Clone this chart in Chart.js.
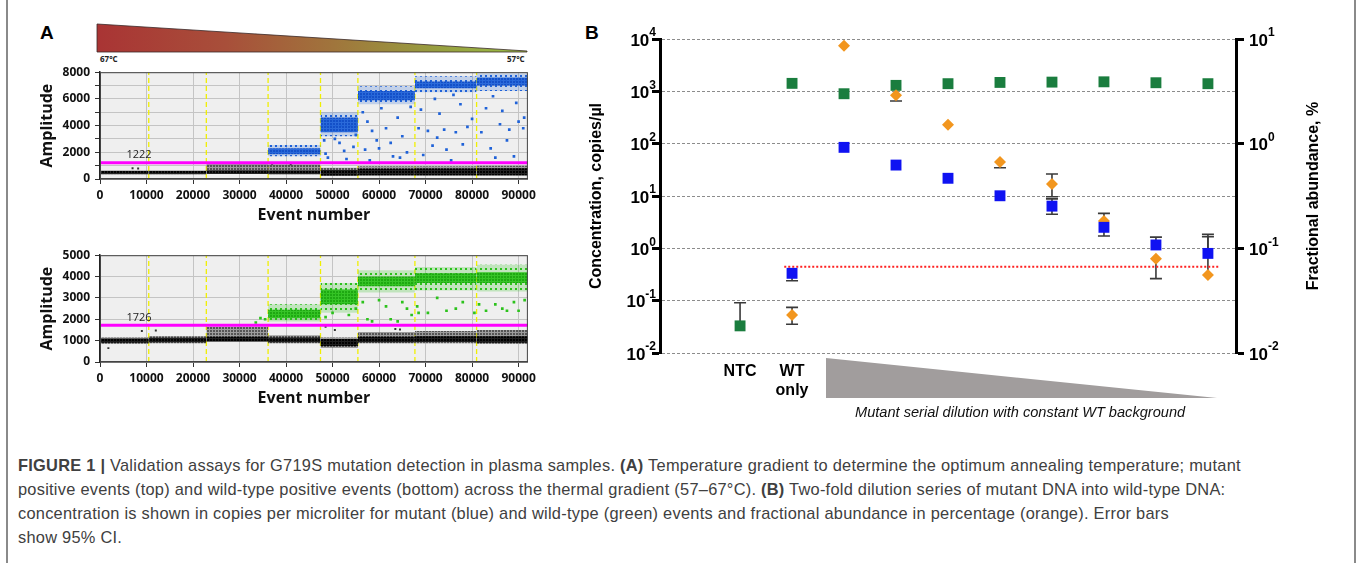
<!DOCTYPE html>
<html>
<head>
<title>Figure 1 - G719S validation</title>
<style>
  body { margin: 0; background: #fff; font-family: "Liberation Sans", Arial, sans-serif; }
  #page { position: relative; width: 1357px; height: 563px; overflow: hidden; }
  .abs { position: absolute; }
  canvas { position: absolute; }
  .panel { font-weight: bold; font-size: 19px; color: #000; }
  .temp { font-family: "Open Sans", sans-serif; font-weight: bold; font-size: 8px; color: #222; }
  .note { font-style: italic; font-size: 14.6px; color: #111; white-space: nowrap; }
  #caption { left: 18px; top: 453px; font-size: 16.4px; letter-spacing: 0.25px; line-height: 24px; color: #404040; white-space: nowrap; }
</style>
<script src="https://cdn.jsdelivr.net/npm/chart.js"></script>
</head>
<body>
<div id="page">
  <svg class="abs" style="left:0;top:0" width="1357" height="563">
    <defs>
      <linearGradient id="tempGrad" x1="0" x2="1" y1="0" y2="0">
        <stop offset="0" stop-color="#a93434"/>
        <stop offset="0.3" stop-color="#a84f3a"/>
        <stop offset="0.55" stop-color="#a0753c"/>
        <stop offset="0.8" stop-color="#97a040"/>
        <stop offset="1" stop-color="#9bbf45"/>
      </linearGradient>
    </defs>
    <polygon points="97,24 527,51 527,52 97,52" fill="url(#tempGrad)" stroke="#3a2a2a" stroke-width="0.8"/>
    <polygon points="826,358 1217,398 826,398" fill="#a19d9d"/>
    <line x1="7" y1="0" x2="7" y2="563" stroke="#8a8a8a" stroke-width="2"/>
    <line x1="1355" y1="0" x2="1355" y2="563" stroke="#8a8a8a" stroke-width="2"/>
  </svg>

  <div class="abs panel" style="left:40px;top:22px">A</div>
  <div class="abs panel" style="left:585px;top:22px">B</div>
  <div class="abs temp" style="left:100px;top:53px">67°C</div>
  <div class="abs temp" style="left:507px;top:53px">57°C</div>

  <canvas id="mutChart" width="510" height="170" style="left:30px;top:60px"></canvas>
  <canvas id="wtChart" width="510" height="170" style="left:30px;top:243px"></canvas>
  <canvas id="dilChart" width="775" height="410" style="left:580px;top:25px"></canvas>

  <div class="abs note" style="left:855px;top:404px">Mutant serial dilution with constant WT background</div>

  <div id="caption" class="abs">
    <b>FIGURE 1 |</b> Validation assays for G719S mutation detection in plasma samples. <b>(A)</b> Temperature gradient to determine the optimum annealing temperature; mutant<br>
    positive events (top) and wild-type positive events (bottom) across the thermal gradient (57–67°C). <b>(B)</b> Two-fold dilution series of mutant DNA into wild-type DNA:<br>
    concentration is shown in copies per microliter for mutant (blue) and wild-type (green) events and fractional abundance in percentage (orange). Error bars<br>
    show 95% CI.
  </div>
</div>

<script>
// ---------- Panel A: droplet amplitude vs event number ----------
// temperature gradient wells along the event axis
const segStart = [0, 10480, 22860, 36140, 47410, 55450, 67710, 80970];
const segEnd   = [10480, 22860, 36140, 47410, 55450, 67710, 80970, 92000];
const wellEdges = [10480, 22860, 36140, 47410, 55450, 67710, 80970];
const eventTicks = [0, 10000, 20000, 30000, 40000, 50000, 60000, 70000, 80000, 90000];

// mutant (top) assay
const mutThreshold = 1222;
const mutNegLo  = [350, 360, 380, 360, 250, 260, 260, 260];
const mutNegHi  = [620, 620, 650, 660, 680, 760, 780, 800];
const mutGrayLo = [null, null, 620, 650, 600, 650, 650, 650];
const mutGrayHi = [null, null, 1150, 1100, 850, 950, 950, 1000];
const mutPosLo    = [null, null, null, 1850, 3500, 5900, 6800, 7000];
const mutPosHi    = [null, null, null, 2300, 4600, 6600, 7300, 7600];
const mutPosOutLo = [null, null, null, 1700, 3200, 5600, 6500, 6600];
const mutPosOutHi = [null, null, null, 2550, 5000, 6950, 7700, 7900];
const mutRainX = [48200, 48500, 49000, 50500, 51500, 52500, 53000, 54500, 55000,
  56500, 57000, 57500, 58000, 58500, 59500, 60000, 60500, 61500, 62500, 63000, 64000, 64500, 65000, 66000, 66800,
  68500, 69000, 69500, 70500, 71500, 72000, 72500, 73000, 74000, 74500, 75500, 76000, 76500, 77500, 78000, 79000, 80000,
  82000, 83000, 84000, 84500, 85000, 86000, 86500, 87500, 88000, 89000, 89500, 90000, 91000, 91200];
const mutRainY = [2900, 1900, 1600, 3000, 2700, 2100, 1500, 2400, 3300,
  5000, 2200, 4300, 1400, 3600, 2900, 2300, 5300, 3800, 2700, 1700, 4600, 1600, 3200, 2000, 5400,
  3800, 5200, 1800, 3600, 2500, 6000, 3100, 4900, 3700, 2200, 1400, 6300, 3500, 5600, 2600, 3900, 4500,
  3500, 5300, 2300, 6200, 1600, 4100, 5100, 2900, 3700, 1700, 5700, 4300, 3800, 4600];
const mutNegOutX = [7000, 8200, 37000, 41000];
const mutNegOutY = [800, 780, 1150, 1100];

// wild-type (bottom) assay
const wtThreshold = 1726;
const wtNegLo  = [900, 930, 960, 930, 750, 930, 940, 900];
const wtNegHi  = [1100, 1130, 1180, 1150, 1080, 1180, 1200, 1200];
const wtGrayLo = [850, 880, 950, 880, 650, 880, 880, 850];
const wtGrayHi = [1150, 1200, 1650, 1250, 1150, 1400, 1450, 1500];
const wtPosLo    = [null, null, null, 2050, 2700, 3550, 3700, 3700];
const wtPosHi    = [null, null, null, 2450, 3400, 4000, 4150, 4200];
const wtPosOutLo = [null, null, null, 1900, 2300, 3250, 3350, 3300];
const wtPosOutHi = [null, null, null, 2700, 3700, 4300, 4450, 4550];
const wtRainX = [33500, 34500, 35500, 48500, 50000, 53500, 55000, 56500, 57500, 58500, 60000, 61500, 62500,
  64000, 65000, 66000, 67000, 68200, 68500, 70500, 72500, 74500, 76500, 78000, 80500, 81500, 83000, 85000,
  86500, 87500, 89000, 90000, 91300];
const wtRainY = [1850, 2050, 2000, 2100, 2300, 2200, 2500, 2800, 2000, 1900, 2900, 2600, 2000,
  1900, 2800, 2500, 2200, 2600, 2300, 2300, 3000, 2400, 2500, 2800, 2300, 2700, 2400, 2700,
  2500, 2400, 2800, 2400, 2900];
const wtNegOutX = [1800, 9000, 12000, 48500, 50500, 63500, 64500];
const wtNegOutY = [650, 1450, 1480, 1650, 1500, 1550, 1520];

// ---------- Panel B: dilution series ----------
const catX = [0, 1, 2, 3, 4, 5, 6, 7, 8, 9];
const catLabels = ['NTC', ['WT', 'only']];
const wtConc   = [0.033, 1420, 900, 1300, 1400, 1480, 1500, 1520, 1460, 1400];
const wtConcLo = [null, null, null, null, null, null, null, null, null, null];
const wtConcHi = [0.091, null, null, null, null, null, null, null, null, null];
const mutConc   = [null, 0.333, 85, 39, 21.8, 10.1, 6.4, 2.52, 1.16, 0.80];
const mutConcLo = [null, 0.24, null, null, null, null, 4.47, null, null, null];
const mutConcHi = [null, null, null, null, null, null, 8.8, null, 1.64, 1.67];
const fracAb   = [null, 0.0231, 8.6, 2.9, 1.52, 0.668, 0.412, 0.182, 0.0796, 0.0556];
const fracAbLo = [null, 0.0188, null, 2.56, null, 0.589, 0.311, 0.131, 0.0513, null];
const fracAbHi = [null, 0.0273, null, null, null, null, 0.513, 0.216, null, 0.136];
const lodConc = 0.446;
const lodFrom = 0.85, lodTo = 9.2;
const concDecades = [0.01, 0.1, 1, 10, 100, 1000, 10000];
const fracDecades = [0.01, 0.1, 1, 10];

// ---------- helpers ----------
function dotPattern(bg, dot, size) {
  const c = document.createElement('canvas');
  c.width = size; c.height = size;
  const g = c.getContext('2d');
  g.fillStyle = bg; g.fillRect(0, 0, size, size);
  g.fillStyle = dot; g.fillRect(0, 0, 2, 2);
  return g.createPattern(c, 'repeat');
}

const plotFrame = {
  id: 'plotFrame',
  beforeDraw(chart) {
    const {ctx, chartArea: a} = chart;
    ctx.save();
    ctx.fillStyle = '#efefef';
    ctx.fillRect(a.left, a.top, a.right - a.left, a.bottom - a.top);
    ctx.restore();
  },
  afterDraw(chart, args, opts) {
    const {ctx, chartArea: a} = chart;
    ctx.save();
    ctx.strokeStyle = '#444';
    ctx.lineWidth = 1;
    ctx.strokeRect(a.left + 0.5, a.top + 0.5, a.right - a.left - 1, a.bottom - a.top - 1);
    ctx.fillStyle = '#222';
    ctx.font = '11px "Open Sans", sans-serif';
    ctx.textAlign = 'center';
    ctx.textBaseline = 'bottom';
    ctx.fillText(String(opts.value), chart.scales.x.getPixelForValue(8400), chart.scales.y.getPixelForValue(opts.value) - 2);
    ctx.restore();
  }
};

function dropletChart(id, c) {
  const ds = [];
  ds.push({type: 'line', data: [{x: 0, y: c.threshold}, {x: 92000, y: c.threshold}],
    borderColor: '#ff00ff', borderWidth: 3, pointRadius: 0, order: 0});
  ds.push({type: 'scatter', data: c.rainX.map((x, i) => ({x, y: c.rainY[i]})),
    pointStyle: 'rect', pointRadius: 1.9, backgroundColor: c.dot, borderWidth: 0, order: 1});
  ds.push({type: 'scatter', data: c.negOutX.map((x, i) => ({x, y: c.negOutY[i]})),
    pointStyle: 'rect', pointRadius: 1.4, backgroundColor: '#333', borderWidth: 0, order: 1});
  const band = (lo, hi, fill, order) => lo.forEach((l, i) => {
    if (l == null) return;
    ds.push({type: 'line', data: [{x: segStart[i], y: hi[i]}, {x: segEnd[i], y: hi[i]}],
      fill: {value: l}, backgroundColor: fill, borderColor: 'transparent', borderWidth: 0,
      pointRadius: 0, order});
  });
  band(c.posLo, c.posHi, c.corePat, 2);
  band(c.posOutLo, c.posOutHi, c.outPat, 3);
  band(c.negLo, c.negHi, dotPattern('rgba(20,20,20,0.92)', '#000', 3), 4);
  band(c.grayLo, c.grayHi, dotPattern('rgba(90,90,90,0.55)', '#555', 3), 5);
  wellEdges.forEach(e => ds.push({type: 'line', data: [{x: e, y: 0}, {x: e, y: c.yMax}],
    borderColor: '#f0f000', borderWidth: 1.3, borderDash: [5, 3], pointRadius: 0, order: 9}));

  const tickFont = {family: '"Open Sans", sans-serif', weight: 'bold', size: 12};
  const titleFont = {family: '"Open Sans", sans-serif', weight: 'bold', size: 16};
  return new Chart(document.getElementById(id), {
    type: 'scatter',
    data: {datasets: ds},
    plugins: [plotFrame],
    options: {
      responsive: false, animation: false, events: [],
      layout: {padding: {top: 8, right: 12, bottom: 3, left: 0}},
      plugins: {legend: {display: false}, tooltip: {enabled: false}, plotFrame: {value: c.threshold}},
      scales: {
        x: {
          type: 'linear', min: 0, max: 92000,
          afterFit: s => { s.height = 48; },
          afterBuildTicks: s => { s.ticks = eventTicks.map(v => ({value: v})); },
          ticks: {autoSkip: false, color: '#111', font: tickFont, padding: 4,
            maxRotation: 0, callback: v => String(v)},
          grid: {color: '#c4c4c4', tickColor: '#333', tickLength: 5},
          border: {color: '#222', width: 1.5},
          title: {display: true, text: 'Event number', color: '#111', font: titleFont, padding: {top: 0, bottom: 2}}
        },
        y: {
          min: 0, max: c.yMax,
          afterFit: s => { s.width = 70; },
          ticks: {stepSize: 1000, autoSkip: false, color: '#111', font: tickFont, padding: 5,
            callback: v => (v % c.labelStep === 0 ? String(v) : '')},
          grid: {color: '#c4c4c4', tickColor: '#333', tickLength: 5},
          border: {color: '#222', width: 1.5},
          title: {display: true, text: 'Amplitude', color: '#111', font: titleFont, padding: {top: 8, bottom: 0}}
        }
      }
    }
  });
}

dropletChart('mutChart', {
  threshold: mutThreshold, yMax: 8000, labelStep: 2000,
  negLo: mutNegLo, negHi: mutNegHi, grayLo: mutGrayLo, grayHi: mutGrayHi,
  posLo: mutPosLo, posHi: mutPosHi, posOutLo: mutPosOutLo, posOutHi: mutPosOutHi,
  rainX: mutRainX, rainY: mutRainY, negOutX: mutNegOutX, negOutY: mutNegOutY,
  dot: '#1f62d8',
  corePat: dotPattern('rgba(31,98,216,0.93)', '#1450c8', 3),
  outPat: dotPattern('rgba(31,98,216,0.22)', '#1f62d8', 5)
});

dropletChart('wtChart', {
  threshold: wtThreshold, yMax: 5000, labelStep: 1000,
  negLo: wtNegLo, negHi: wtNegHi, grayLo: wtGrayLo, grayHi: wtGrayHi,
  posLo: wtPosLo, posHi: wtPosHi, posOutLo: wtPosOutLo, posOutHi: wtPosOutHi,
  rainX: wtRainX, rainY: wtRainY, negOutX: wtNegOutX, negOutY: wtNegOutY,
  dot: '#2cc21c',
  corePat: dotPattern('rgba(44,194,28,0.93)', '#1ea812', 3),
  outPat: dotPattern('rgba(44,194,28,0.24)', '#2cc21c', 5)
});

// ---------- Panel B ----------
const errorBars = {
  id: 'errorBars',
  beforeDatasetsDraw(chart) {
    const ctx = chart.ctx;
    const xs = chart.scales.x;
    ctx.save();
    ctx.strokeStyle = '#3a3a3a';
    ctx.lineWidth = 1.6;
    chart.data.datasets.forEach(ds => {
      if (!ds.errLo) return;
      const ys = chart.scales[ds.yAxisID];
      ds.data.forEach((p, i) => {
        const lo = ds.errLo[i], hi = ds.errHi[i];
        if (p.y == null || (lo == null && hi == null)) return;
        const px = xs.getPixelForValue(p.x);
        const top = ys.getPixelForValue(hi != null ? hi : p.y);
        const bot = ys.getPixelForValue(lo != null ? lo : p.y);
        ctx.beginPath();
        ctx.moveTo(px, top); ctx.lineTo(px, bot);
        if (hi != null) { ctx.moveTo(px - 6, top); ctx.lineTo(px + 6, top); }
        if (lo != null) { ctx.moveTo(px - 6, bot); ctx.lineTo(px + 6, bot); }
        ctx.stroke();
      });
    });
    ctx.restore();
  }
};

const powerLabels = {
  id: 'powerLabels',
  afterDraw(chart) {
    const ctx = chart.ctx;
    const baseFont = 'bold 17px "Liberation Sans", Arial, sans-serif';
    const supFont = 'bold 12px "Liberation Sans", Arial, sans-serif';
    ctx.save();
    ctx.fillStyle = '#000';
    ctx.textBaseline = 'middle';
    ctx.textAlign = 'left';
    ['y', 'y2'].forEach(id => {
      const s = chart.scales[id];
      s.ticks.forEach(t => {
        const py = s.getPixelForValue(t.value);
        const e = Math.round(Math.log10(t.value));
        const sup = String(e);
        ctx.font = baseFont; const wb = ctx.measureText('10').width;
        ctx.font = supFont; const ws = ctx.measureText(sup).width;
        const x0 = id === 'y' ? s.right - 4 - ws - wb : s.left + 13;
        ctx.font = baseFont; ctx.fillText('10', x0, py + 2);
        ctx.font = supFont; ctx.fillText(sup, x0 + wb, py - 6);
      });
    });
    // right axis title, reading bottom to top
    const a = chart.chartArea;
    ctx.translate(734, (a.top + a.bottom) / 2);
    ctx.rotate(-Math.PI / 2);
    ctx.font = 'bold 16px "Liberation Sans", Arial, sans-serif';
    ctx.textAlign = 'center';
    ctx.fillText('Fractional abundance, %', 0, 0);
    ctx.restore();
  }
};

const toPoints = vals => catX.map((x, i) => ({x, y: vals[i]})).filter(p => p.y != null);
const keep = (vals, arr) => catX.map((x, i) => ({v: vals[i], a: arr[i]})).filter(p => p.v != null).map(p => p.a);

new Chart(document.getElementById('dilChart'), {
  type: 'scatter',
  data: {
    datasets: [
      {label: 'Mutant', data: toPoints(mutConc), yAxisID: 'y',
        errLo: keep(mutConc, mutConcLo), errHi: keep(mutConc, mutConcHi),
        pointStyle: 'rect', pointRadius: 7.7, backgroundColor: '#0f12f2', borderColor: '#0f12f2', borderWidth: 0},
      {label: 'Fractional abundance', data: toPoints(fracAb), yAxisID: 'y2',
        errLo: keep(fracAb, fracAbLo), errHi: keep(fracAb, fracAbHi),
        pointStyle: 'rectRot', pointRadius: 6, backgroundColor: '#f2961e', borderColor: '#f2961e', borderWidth: 0},
      {label: 'Wild-type', data: toPoints(wtConc), yAxisID: 'y',
        errLo: keep(wtConc, wtConcLo), errHi: keep(wtConc, wtConcHi),
        pointStyle: 'rect', pointRadius: 7.7, backgroundColor: '#1a7d3e', borderColor: '#1a7d3e', borderWidth: 0},
      {label: 'LOD', data: [{x: lodFrom, y: lodConc}, {x: lodTo, y: lodConc}], yAxisID: 'y',
        showLine: true, borderColor: '#ff2020', borderWidth: 2, borderDash: [2, 2], pointRadius: 0}
    ]
  },
  plugins: [errorBars, powerLabels],
  options: {
    responsive: false, animation: false, events: [],
    layout: {padding: {top: 14, right: 0, bottom: 0, left: 0}},
    plugins: {legend: {display: false}, tooltip: {enabled: false}},
    scales: {
      x: {
        type: 'linear', min: -1.54, max: 9.54,
        afterFit: s => { s.height = 82; },
        afterBuildTicks: s => { s.ticks = [{value: 0}, {value: 1}]; },
        ticks: {color: '#000', padding: 1, maxRotation: 0, autoSkip: false,
          font: {family: '"Liberation Sans", Arial, sans-serif', weight: 'bold', size: 16},
          callback: (v, i) => catLabels[i]},
        grid: {display: false},
        border: {display: false}
      },
      y: {
        type: 'logarithmic', position: 'left', min: 0.01, max: 10000,
        afterFit: s => { s.width = 80; },
        afterBuildTicks: s => { s.ticks = concDecades.map(v => ({value: v})); },
        ticks: {display: false},
        grid: {color: '#8c8c8c', lineWidth: 1, tickColor: '#000', tickWidth: 3, tickLength: 8},
        border: {color: '#000', width: 3, dash: [3, 2]},
        title: {display: true, text: 'Concentration, copies/µl', color: '#000',
          font: {family: '"Liberation Sans", Arial, sans-serif', weight: 'bold', size: 16},
          padding: {top: 7, bottom: 0}}
      },
      y2: {
        type: 'logarithmic', position: 'right', min: 0.01, max: 10,
        afterFit: s => { s.width = 119; },
        afterBuildTicks: s => { s.ticks = fracDecades.map(v => ({value: v})); },
        ticks: {display: false},
        grid: {drawOnChartArea: false, tickColor: '#000', tickWidth: 3, tickLength: 8},
        border: {color: '#000', width: 3}
      }
    }
  }
});
</script>
</body>
</html>
